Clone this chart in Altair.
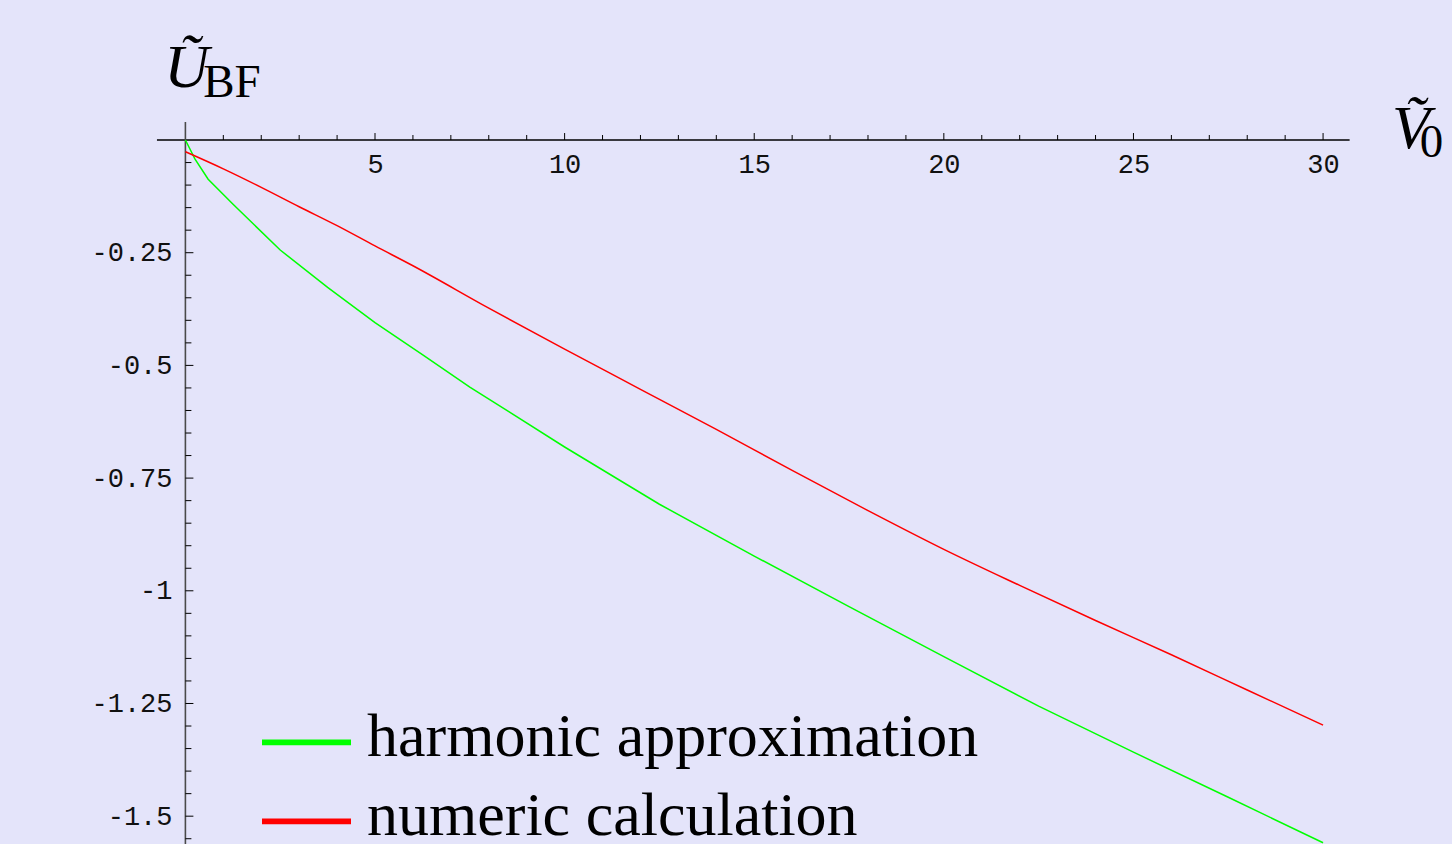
import altair as alt
import pandas as pd

# ---- data ----
v0_harm = [0, 0.25, 0.6, 1.25, 2.5, 3.75, 5, 6.25, 7.5, 10, 12.5, 15, 17.5, 20, 22.5, 25, 27.5, 30]
u_harm = [0, -0.042, -0.087, -0.142, -0.244, -0.327, -0.405, -0.476, -0.548, -0.681, -0.808,
          -0.923, -1.035, -1.146, -1.256, -1.358, -1.458, -1.559]
v0_num = [0, 1, 2, 3, 4, 5, 6, 8, 10, 12, 14, 16, 18, 20, 22, 24, 26, 28, 30]
u_num = [-0.026, -0.064, -0.105, -0.148, -0.190, -0.235, -0.279, -0.373, -0.464, -0.553, -0.642,
         -0.733, -0.822, -0.908, -0.988, -1.066, -1.142, -1.220, -1.298]
series_names = ["harmonic approximation", "numeric calculation"]
series_colors = ["#00FF00", "#FF0000"]

x_major = [5, 10, 15, 20, 25, 30]
x_minor = [i for i in range(1, 31) if i % 5 != 0]
y_major = [-0.25, -0.5, -0.75, -1, -1.25, -1.5]
y_minor = [-round(0.05 * k, 2) for k in range(1, 32) if k % 5 != 0]

x_domain = [-4.889, 33.40]
y_domain = [-1.5617, 0.3106]
x_axis_extent = [-0.75, 30.7]
y_axis_extent = [0.04, -1.5617]

# ---- tables ----
df_h = pd.DataFrame({"x": v0_harm, "y": u_harm, "series": series_names[0]})
df_n = pd.DataFrame({"x": v0_num, "y": u_num, "series": series_names[1]})
one = pd.DataFrame({"a": [0]})

xs = alt.Scale(domain=x_domain, nice=False, zero=False)
ys = alt.Scale(domain=y_domain, nice=False, zero=False)

x_enc = alt.X("x:Q", scale=xs, axis=alt.Axis(
    orient="top", offset=-140, values=x_major, ticks=False, tickSize=0, domain=False,
    grid=False, labelFont="Liberation Mono", labelFontSize=27, labelColor="#111111",
    labelBaseline="alphabetic", labelPadding=-32, labelOverlap=False, labelFlush=False,
    title=None))
y_enc = alt.Y("y:Q", scale=ys, axis=alt.Axis(
    orient="left", offset=-186, values=y_major, ticks=False, tickSize=0, domain=False,
    grid=False, labelFont="Liberation Mono", labelFontSize=27, labelColor="#111111",
    labelAlign="right", labelBaseline="middle", labelPadding=14, labelOverlap=False,
    labelFlush=False, labelExpr="'' + datum.value", title=None))
c_enc = alt.Color("series:N", scale=alt.Scale(domain=series_names, range=series_colors),
                  legend=alt.Legend(
                      orient="none", legendX=262, legendY=692, title=None,
                      symbolType="M-1,0.12L1,0.12L1,0.16L-1,0.16Z", symbolSize=7225,
                      symbolStrokeWidth=4,
                      labelFont="Liberation Serif", labelFontSize=62, labelColor="black",
                      labelOffset=16, rowPadding=3, padding=0, labelLimit=0))

harm_line = alt.Chart(df_h).mark_line(strokeWidth=1.5).encode(
    x=x_enc, y=y_enc, color=c_enc, order=alt.Order("x:Q"))
num_line = alt.Chart(df_n).mark_line(strokeWidth=1.5, interpolate="monotone").encode(
    x=x_enc, y=y_enc, color=c_enc, order=alt.Order("x:Q"))

x_axis_line = alt.Chart(one).mark_rule(color="black", strokeWidth=1.4).encode(
    x=alt.datum(x_axis_extent[0], scale=xs), x2=alt.datum(x_axis_extent[1]),
    y=alt.datum(0, scale=ys))
y_axis_line = alt.Chart(one).mark_rule(color="#4a4a4a", strokeWidth=1.6).encode(
    x=alt.datum(0, scale=xs), y=alt.datum(y_axis_extent[0], scale=ys), y2=alt.datum(y_axis_extent[1]))

x_major_ticks = alt.Chart(pd.DataFrame({"x": x_major})).mark_rule(color="black", strokeWidth=1).encode(
    x=alt.X("x:Q", scale=xs), y=alt.datum(0, scale=ys), y2=alt.datum(0.0155))
x_minor_ticks = alt.Chart(pd.DataFrame({"x": x_minor})).mark_rule(color="black", strokeWidth=1).encode(
    x=alt.X("x:Q", scale=xs), y=alt.datum(0, scale=ys), y2=alt.datum(0.0111))
y_major_ticks = alt.Chart(pd.DataFrame({"y": y_major})).mark_rule(color="black", strokeWidth=1).encode(
    y=alt.Y("y:Q", scale=ys), x=alt.datum(0, scale=xs), x2=alt.datum(0.211))
y_minor_ticks = alt.Chart(pd.DataFrame({"y": y_minor})).mark_rule(color="black", strokeWidth=1).encode(
    y=alt.Y("y:Q", scale=ys), x=alt.datum(0, scale=xs), x2=alt.datum(0.158))

big_lbl = pd.DataFrame({"x": [-0.56, 31.82], "y": [0.1176, -0.0177], "t": ["\u0168", "V\u0303"]})
sub_lbl = pd.DataFrame({"x": [0.47, 32.55], "y": [0.0954, -0.0377], "t": ["BF", "0"]})
big_text = alt.Chart(big_lbl).mark_text(
    align="left", baseline="alphabetic", font="Liberation Serif", fontStyle="italic",
    fontSize=62, color="black").encode(
    x=alt.X("x:Q", scale=xs), y=alt.Y("y:Q", scale=ys), text="t:N")
sub_text = alt.Chart(sub_lbl).mark_text(
    align="left", baseline="alphabetic", font="Liberation Serif",
    fontSize=47, color="black").encode(
    x=alt.X("x:Q", scale=xs), y=alt.Y("y:Q", scale=ys), text="t:N")

chart = alt.layer(
    x_axis_line, y_axis_line, x_major_ticks, x_minor_ticks, y_major_ticks, y_minor_ticks,
    harm_line, num_line, big_text, sub_text,
).properties(
    width=1452, height=844, padding=0, autosize=alt.AutoSizeParams(type="none"),
    background="#E4E4FA",
).configure_view(strokeWidth=0)

chart.save("out.html", embed_options={"renderer": "svg", "actions": False})
